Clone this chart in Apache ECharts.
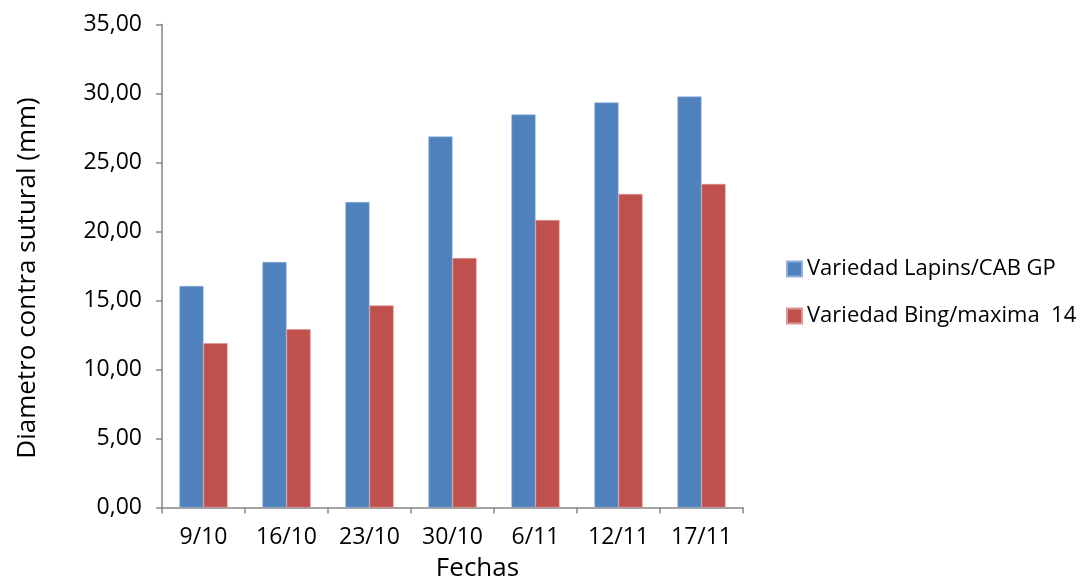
<!DOCTYPE html>
<html>
<head>
<meta charset="utf-8">
<script src="https://cdn.jsdelivr.net/npm/echarts@6/dist/echarts.min.js"></script>
<style>
  html, body { margin: 0; padding: 0; background: #fff; }
  #chart { width: 1085px; height: 581px; }
</style>
</head>
<body>
<div id="chart"></div>
<script>
// Fechas de medición
const categories = ['9/10', '16/10', '23/10', '30/10', '6/11', '12/11', '17/11'];
// Diámetro contra sutural (mm) por variedad
const lapinsValues = [16.05, 17.79, 22.14, 26.88, 28.48, 29.35, 29.78];
const bingValues = [11.91, 12.92, 14.64, 18.08, 20.83, 22.72, 23.45];
const seriesNames = ['Variedad Lapins/CAB GP', 'Variedad Bing/maxima  14'];
const yTicks = [0, 5, 10, 15, 20, 25, 30, 35];

const FONT = '"Open Sans", "Liberation Sans", sans-serif';
const AXIS_GRAY = '#868686';

const chart = echarts.init(document.getElementById('chart'), null, { renderer: 'canvas' });

chart.setOption({
  backgroundColor: '#ffffff',
  animation: false,
  textStyle: { fontFamily: FONT, color: '#000' },
  grid: {
    left: 162, right: 342, top: 24.5, bottom: 73.5,
    containLabel: false,
    outerBoundsMode: 'none'
  },
  legend: {
    orient: 'vertical',
    left: 781,
    top: 253,
    itemWidth: 15,
    itemHeight: 15,
    itemGap: 25,
    icon: 'rect',
    textStyle: { fontFamily: FONT, fontSize: 22, color: '#000', padding: [0, 0, 0, 0] },
    data: seriesNames
  },
  xAxis: {
    type: 'category',
    data: categories,
    name: 'Fechas',
    nameLocation: 'middle',
    nameGap: 48,
    nameTextStyle: { fontFamily: FONT, fontSize: 26, color: '#000', padding: [0, 0, 0, 50] },
    axisLine: { lineStyle: { color: AXIS_GRAY, width: 1.5 } },
    axisTick: { show: true, alignWithLabel: false, length: 6, lineStyle: { color: AXIS_GRAY, width: 1.5 } },
    axisLabel: { fontFamily: FONT, fontSize: 23, color: '#000', margin: 18 }
  },
  yAxis: {
    type: 'value',
    min: yTicks[0],
    max: yTicks[yTicks.length - 1],
    interval: yTicks[1] - yTicks[0],
    name: 'Diametro contra sutural (mm)',
    nameLocation: 'middle',
    nameGap: 121,
    nameRotate: 90,
    nameTextStyle: { fontFamily: FONT, fontSize: 26, color: '#000', padding: [0, 24, 0, 0] },
    splitLine: { show: false },
    axisLine: { show: true, lineStyle: { color: AXIS_GRAY, width: 1.5 } },
    axisTick: { show: true, inside: false, length: 6, lineStyle: { color: AXIS_GRAY, width: 1.5 } },
    axisLabel: {
      fontFamily: FONT, fontSize: 23, color: '#000', margin: 20,
      formatter: v => v.toFixed(2).replace('.', ',')
    }
  },
  series: [
    {
      name: seriesNames[0],
      type: 'bar',
      data: lapinsValues,
      barGap: '0%',
      barCategoryGap: '42%',
      itemStyle: { color: '#4F81BD', borderColor: '#8FAEDA', borderWidth: 0.6 }
    },
    {
      name: seriesNames[1],
      type: 'bar',
      data: bingValues,
      barGap: '0%',
      barCategoryGap: '42%',
      itemStyle: { color: '#C0504D', borderColor: '#E09794', borderWidth: 0.6 }
    }
  ]
});
</script>
</body>
</html>
